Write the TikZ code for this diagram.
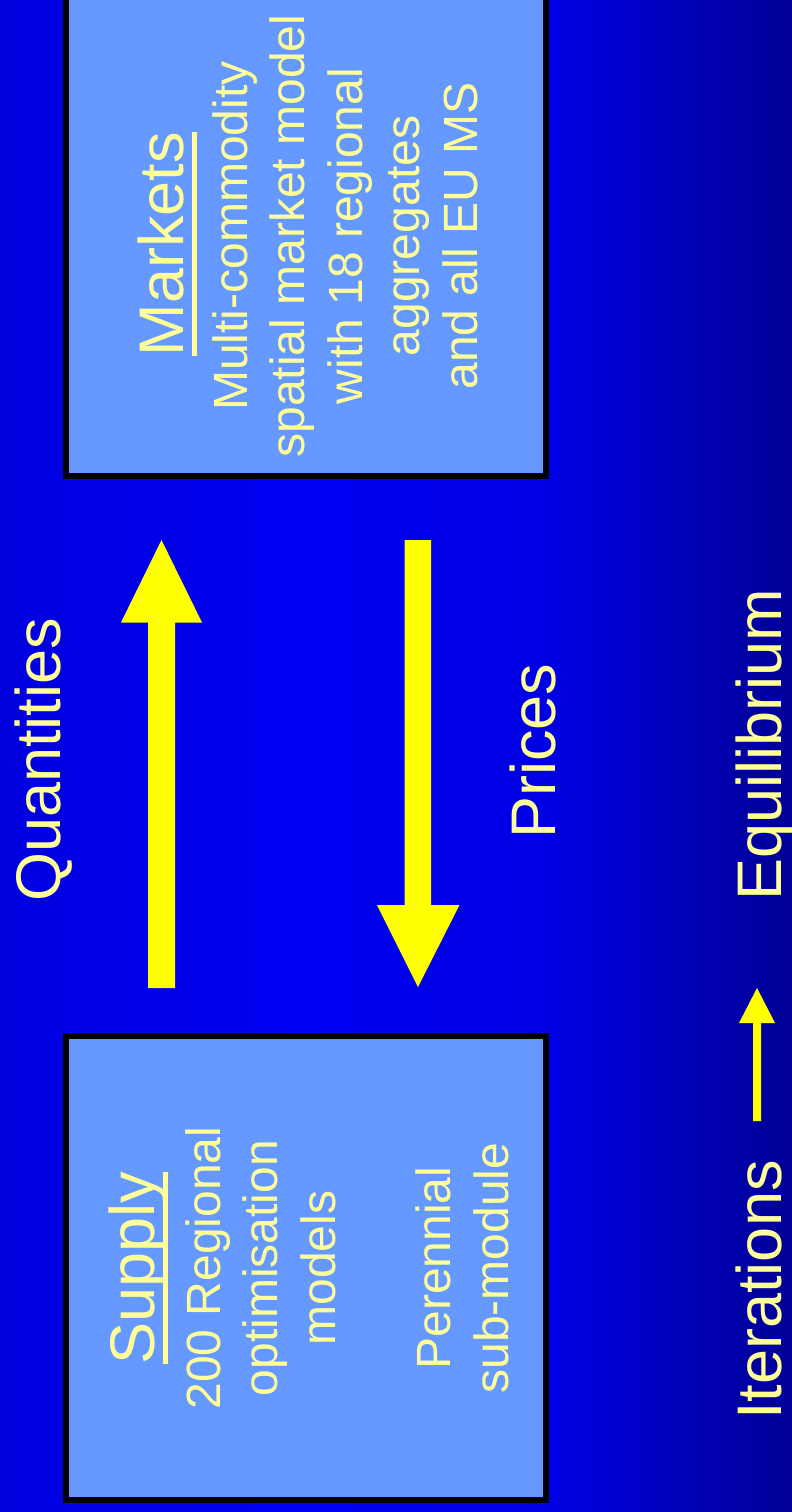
\documentclass[tikz,border=0pt]{standalone}
\usepackage{fontspec}
\setmainfont{Liberation Sans}
\definecolor{boxfill}{RGB}{102,153,255}
\definecolor{txt}{RGB}{255,255,153}
\definecolor{arr}{RGB}{255,255,0}
\definecolor{bgA}{RGB}{0,0,222}
\definecolor{bgB}{RGB}{0,0,245}
\definecolor{bgC}{RGB}{0,0,228}
\definecolor{bgD}{RGB}{0,0,150}
\newcommand\bigf{\fontsize{63}{76}\selectfont}
\newcommand\titf{\fontsize{63}{76}\selectfont}
\newcommand\bodyf{\fontsize{48}{57.6}\selectfont}
\newcommand\myul[1]{\setbox0=\hbox{#1}\rlap{\rule[-0.23em]{\wd0}{0.09em}}\box0}
\tikzset{
  modbox/.style={draw=black, line width=6pt, fill=boxfill, inner sep=0pt},
  lbl/.style={text=txt, rotate=90, anchor=base, inner sep=0pt, outer sep=0pt},
  blockarrow/.style={fill=arr, draw=none}
}
\begin{document}
\begin{tikzpicture}[x=1pt, y=-1pt]
\useasboundingbox (0,0) rectangle (792,1512);
% background
\shade[left color=bgA, right color=bgB] (0,0) rectangle (300,1512);
\shade[left color=bgB, right color=bgC] (299.5,0) rectangle (550,1512);
\shade[left color=bgC, right color=bgD] (549.5,0) rectangle (792,1512);

% boxes
\node[modbox, minimum width=480pt, minimum height=500pt] (markets) at (306,226) {};
\node[modbox, minimum width=480pt, minimum height=464pt] (supply) at (306,1268) {};

% Markets text
\node[lbl, font=\titf] (mtitle) at (183,244) {\myul{Markets}};
\node[lbl, font=\bodyf] (m1) at (247,236) {Multi-commodity};
\node[lbl, font=\bodyf] (m2) at (304.6,236) {spatial market model};
\node[lbl, font=\bodyf] (m3) at (362.2,236) {with 18 regional};
\node[lbl, font=\bodyf] (m4) at (419.8,236) {aggregates};
\node[lbl, font=\bodyf] (m5) at (477.4,236) {and all EU MS};

% Supply text
\node[lbl, font=\titf] (stitle) at (154,1268) {\myul{Supply}};
\node[lbl, font=\bodyf] (s1) at (220,1268) {200 Regional};
\node[lbl, font=\bodyf] (s2) at (277.6,1268) {optimisation};
\node[lbl, font=\bodyf] (s3) at (335.2,1268) {models};
\node[lbl, font=\bodyf] (s4) at (450.4,1268) {Perennial};
\node[lbl, font=\bodyf] (s5) at (508,1268) {sub-module};

% side labels
\node[lbl, font=\bigf] (quant) at (60,760) {Quantities};
\node[lbl, font=\bigf] (prices) at (555,751) {Prices};
\node[lbl, font=\bigf] (equil) at (781,745) {Equilibrium};
\node[lbl, font=\bigf] (iter) at (781,1290) {Iterations};

% block arrows
\fill[blockarrow] (148,988) -- (148,622.5) -- (121,622.5) -- (161.5,540)
  -- (202,622.5) -- (175,622.5) -- (175,988) -- cycle;
\fill[blockarrow] (404.5,540) -- (431,540) -- (431,905) -- (459.5,905)
  -- (418,987) -- (377,905) -- (404.5,905) -- cycle;
\fill[blockarrow] (753,1121) -- (753,1023) -- (739,1023) -- (757,988)
  -- (775,1023) -- (761,1023) -- (761,1121) -- cycle;
\end{tikzpicture}
\end{document}
